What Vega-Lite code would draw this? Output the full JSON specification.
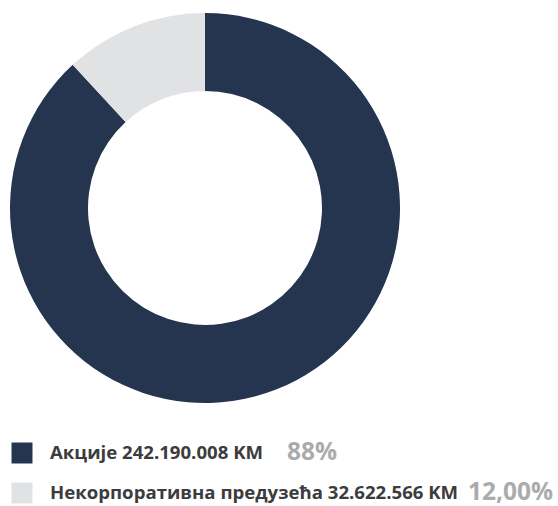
{
  "$schema": "https://vega.github.io/schema/vega-lite/v6.json",
  "padding": 0,
  "background": "white",
  "config": {"view": {"stroke": null}, "concat": {"spacing": 0}},
  "data": {"values": [
    {"name": "Акције", "label": "Акције 242.190.008 KM", "amount": 242190008, "pct": "88%", "order": 1},
    {"name": "Некорпоративна предузећа", "label": "Некорпоративна предузећа 32.622.566 KM", "amount": 32622566, "pct": "12,00%", "order": 2}
  ]},
  "vconcat": [
    {
      "width": 410,
      "height": 416,
      "mark": {"type": "arc", "outerRadius": 195, "innerRadius": 117},
      "encoding": {
        "theta": {"field": "amount", "type": "quantitative", "stack": true},
        "order": {"field": "order", "type": "quantitative"},
        "color": {"field": "name", "type": "nominal", "legend": null,
          "scale": {"domain": ["Акције", "Некорпоративна предузећа"], "range": ["#25344f", "#e1e2e4"]}}
      }
    },
    {
      "width": 558,
      "height": 90,
      "encoding": {
        "y": {"field": "name", "type": "nominal", "axis": null, "sort": {"field": "order"},
          "scale": {"type": "point", "range": [37, 77], "padding": 0}}
      },
      "layer": [
        {
          "mark": {"type": "point", "shape": "square", "filled": true, "size": 440, "opacity": 1, "x": 22},
          "encoding": {
            "color": {"field": "name", "type": "nominal", "legend": null,
              "scale": {"domain": ["Акције", "Некорпоративна предузећа"], "range": ["#25344f", "#e1e2e4"]}}
          }
        },
        {
          "mark": {"type": "text", "align": "left", "baseline": "middle", "x": 50, "font": "Open Sans", "fontWeight": "bold", "fontSize": 18.6, "fill": "#3c3c3c"},
          "encoding": {"text": {"field": "label"}}
        },
        {
          "transform": [{"filter": "datum.order == 1"}],
          "mark": {"type": "text", "align": "left", "baseline": "middle", "x": 287, "font": "Open Sans", "fontWeight": "bold", "fontSize": 24.5, "fill": "#ababab"},
          "encoding": {"text": {"field": "pct"}}
        },
        {
          "transform": [{"filter": "datum.order == 2"}],
          "mark": {"type": "text", "align": "left", "baseline": "middle", "x": 468, "font": "Open Sans", "fontWeight": "bold", "fontSize": 24.5, "fill": "#ababab"},
          "encoding": {"text": {"field": "pct"}}
        }
      ]
    }
  ]
}
